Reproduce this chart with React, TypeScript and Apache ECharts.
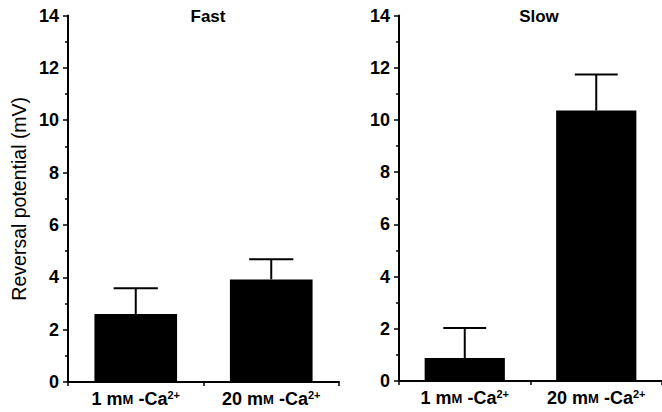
import React, { useEffect, useRef } from "react";
import * as echarts from "echarts";

const categories = ["1", "20"];
const fastMeans = [2.6, 3.92];
const fastSem = [0.98, 0.77];
const slowMeans = [0.88, 10.36];
const slowSem = [1.15, 1.38];
const panelTitles = ["Fast", "Slow"];
const yAxisName = "Reversal potential (mV)";

const FONT = "'Liberation Sans', Arial, Helvetica, sans-serif";

export default function App() {
  const ref = useRef<HTMLDivElement>(null);
  useEffect(() => {
    if (!ref.current) return;
    const chart = echarts.init(ref.current, null, { renderer: "svg" });

    const grids = [
      { left: 68, top: 15.5, width: 271, height: 366.5 },
      { left: 399, top: 15.5, width: 270, height: 365.5 },
    ];

    const xAxis = grids.map((_, i) => ({
      type: "category",
      gridIndex: i,
      data: categories,
      boundaryGap: true,
      axisLine: { show: true, lineStyle: { color: "#000", width: 2 } },
      axisTick: { show: true, length: 4, lineStyle: { color: "#000", width: 1.5 } },
      axisLabel: {
        interval: 0,
        margin: 7,
        color: "#000",
        fontFamily: FONT,
        formatter: (v: string) => `{n|${v} m}{sc|M}{n| -Ca}{sup|2+}`,
        rich: {
          n: { fontSize: 18, lineHeight: 20, fontFamily: FONT, color: "#000", fontWeight: "bold" },
          sc: { fontSize: 13, lineHeight: 20, fontFamily: FONT, color: "#000", fontWeight: "bold" },
          sup: { fontSize: 11, lineHeight: 10, verticalAlign: "top", fontFamily: FONT, color: "#000", fontWeight: "bold" },
        },
      },
      splitLine: { show: false },
    }));

    const yAxis = grids.map((_, i) => ({
      type: "value",
      gridIndex: i,
      min: 0,
      max: 14,
      interval: 2,
      name: i === 0 ? yAxisName : "",
      nameLocation: "middle",
      nameGap: 39,
      nameTextStyle: { fontSize: 19.5, color: "#000", fontFamily: FONT },
      axisLine: { show: true, lineStyle: { color: "#000", width: 2 } },
      axisTick: { show: true, length: 5, lineStyle: { color: "#000", width: 1.5 } },
      minorTick: { show: true, splitNumber: 2, length: 3, lineStyle: { color: "#000", width: 1.5 } },
      axisLabel: { margin: 9, color: "#000", fontSize: 18, fontFamily: FONT, fontWeight: "bold" },
      splitLine: { show: false },
    }));

    const errRender = (params: any, api: any) => {
      const x = api.value(0);
      const y = api.value(1);
      const e = api.value(2);
      const base = api.coord([x, y]);
      const top = api.coord([x, y + e]);
      const half = api.size([1, 0])[0] * 0.163;
      const style = { stroke: "#000", lineWidth: 2 };
      return {
        type: "group",
        children: [
          { type: "line", shape: { x1: base[0], y1: base[1], x2: top[0], y2: top[1] }, style },
          { type: "line", shape: { x1: top[0] - half, y1: top[1], x2: top[0] + half, y2: top[1] }, style },
        ],
      };
    };

    const panels = [
      { means: fastMeans, sem: fastSem },
      { means: slowMeans, sem: slowSem },
    ];

    const series: any[] = [];
    panels.forEach((p, i) => {
      series.push({
        type: "bar",
        xAxisIndex: i,
        yAxisIndex: i,
        data: p.means,
        barWidth: "61%",
        itemStyle: { color: "#000" },
        z: 2,
      });
      series.push({
        type: "custom",
        xAxisIndex: i,
        yAxisIndex: i,
        data: p.means.map((m, j) => [j, m, p.sem[j]]),
        renderItem: errRender,
        z: 3,
      });
    });

    chart.setOption({
      animation: false,
      backgroundColor: "#fff",
      title: panelTitles.map((t, i) => ({
        text: t,
        left: i === 0 ? 203 : 534,
        top: 3,
        textAlign: "center",
        textStyle: { fontSize: 17, fontWeight: "bold", color: "#000", fontFamily: FONT },
      })),
      grid: grids,
      xAxis,
      yAxis,
      series,
    });
    return () => chart.dispose();
  }, []);
  return (
    <div
      ref={ref}
      style={{ position: "fixed", left: 0, top: 0, width: 662, height: 412, background: "#fff" }}
    />
  );
}
